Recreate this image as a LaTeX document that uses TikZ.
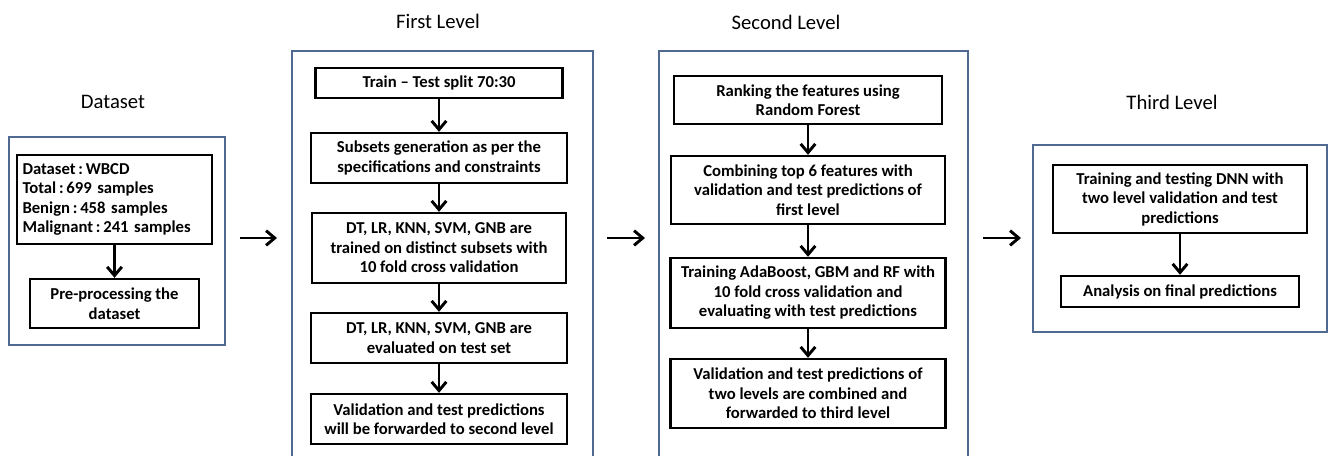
\documentclass[tikz,border=0pt]{standalone}
\usepackage{fontspec}
\setmainfont{Carlito}
\usetikzlibrary{arrows.meta}
\definecolor{rahmen}{RGB}{79,105,145}
\begin{document}
\begin{tikzpicture}[x=0.75pt,y=-0.75pt,
  stufe/.style={draw=black, line width=1.8pt, align=center, inner sep=2pt,
    font=\fontsize{12.5}{14.6}\selectfont\bfseries},
  titel/.style={font=\fontsize{15.5}{18}\selectfont},
  gruppe/.style={draw=rahmen, line width=1.3pt},
  pfeil/.style={line width=2.2pt, -{Straight Barb[length=6.5pt,width=11pt,line width=2.2pt]}}]
\useasboundingbox (0,0) rectangle (1330,455);

% Gruppen
\draw[gruppe] (9,137) rectangle (225,345);
\draw[gruppe] (292,460) -- (292,51) -- (593,51) -- (593,460);
\draw[gruppe] (659,460) -- (659,51) -- (968,51) -- (968,460);
\draw[gruppe] (1033,145) rectangle (1327,332);

% Ueberschriften
\node[titel] (tds) at (113,102) {Dataset};
\node[titel] (tl1) at (438,21) {First Level};
\node[titel] (tl2) at (786,22) {Second Level};
\node[titel] (tl3) at (1172,102) {Third Level};

% Dataset
\node[stufe, align=left, minimum width=146.25pt, minimum height=66.75pt, text width=138pt] (ds) at (114.5,199.5)
  {Dataset\,:\,WBCD\\Total\,:\,699 samples\\Benign\,:\,458 samples\\Malignant\,:\,241 samples};
\node[stufe, minimum width=126.75pt, minimum height=36.75pt] (pre) at (114.5,303.5)
  {Pre-processing the\\dataset};

% First Level
\node[stufe, minimum width=185.25pt, minimum height=22.5pt] (split) at (439,83) {Train -- Test split 70:30};
\node[stufe, minimum width=192pt, minimum height=37.5pt] (subs) at (439,158)
  {Subsets generation as per the\\specifications and constraints};
\node[stufe, minimum width=190.5pt, minimum height=52.5pt] (train1) at (439,248)
  {DT, LR, KNN, SVM, GNB are\\trained on distinct subsets with\\10 fold cross validation};
\node[stufe, minimum width=192pt, minimum height=37.5pt] (eval1) at (439,338)
  {DT, LR, KNN, SVM, GNB are\\evaluated on test set};
\node[stufe, minimum width=192pt, minimum height=37.5pt] (fwd1) at (439,419)
  {Validation and test predictions\\will be forwarded to second level};

% Second Level
\node[stufe, minimum width=201pt, minimum height=36pt] (rank) at (808,100)
  {Ranking the features using\\Random Forest};
\node[stufe, minimum width=205.5pt, minimum height=51pt] (comb) at (808,190)
  {Combining top 6 features with\\validation and test predictions of\\first level};
\node[stufe, minimum width=206.25pt, minimum height=52.5pt] (train2) at (808,293)
  {Training AdaBoost, GBM and RF with\\10 fold cross validation and\\evaluating with test predictions};
\node[stufe, minimum width=206.25pt, minimum height=51.75pt] (fwd2) at (808,393.5)
  {Validation and test predictions of\\two levels are combined and\\forwarded to third level};

% Third Level
\node[stufe, minimum width=190.5pt, minimum height=51pt] (dnn) at (1180,199)
  {Training and testing DNN with\\two level validation and test\\predictions};
\node[stufe, minimum width=178.5pt, minimum height=23.25pt] (ana) at (1180,291.5)
  {Analysis on final predictions};

% Pfeile innen
\draw[pfeil] (ds) -- (pre);
\draw[pfeil] (split) -- (subs);
\draw[pfeil] (subs) -- (train1);
\draw[pfeil] (train1) -- (eval1);
\draw[pfeil] (eval1) -- (fwd1);
\draw[pfeil] (rank) -- (comb);
\draw[pfeil] (comb) -- (train2);
\draw[pfeil] (train2) -- (fwd2);
\draw[pfeil] (dnn) -- (ana);

% Pfeile zwischen den Stufen
\coordinate (a1) at (240,238); \coordinate (b1) at (277,238);
\coordinate (a2) at (607,238); \coordinate (b2) at (645,238);
\coordinate (a3) at (983,238); \coordinate (b3) at (1021,238);
\draw[pfeil] (a1) -- (b1);
\draw[pfeil] (a2) -- (b2);
\draw[pfeil] (a3) -- (b3);
\end{tikzpicture}
\end{document}
